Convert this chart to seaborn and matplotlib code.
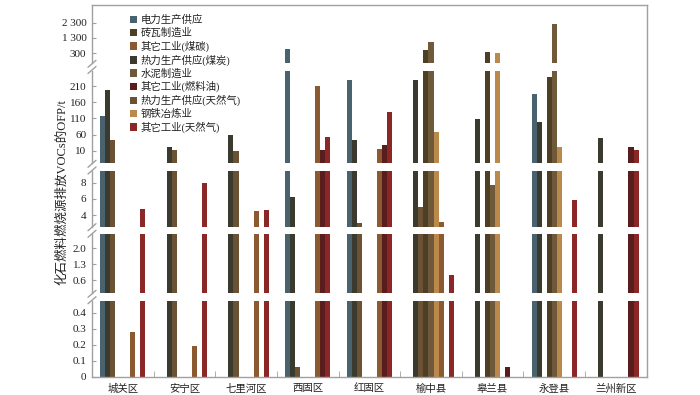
import numpy as np
import pandas as pd
import matplotlib
matplotlib.use('Agg')
import matplotlib.pyplot as plt
from matplotlib.patches import Patch
from matplotlib.lines import Line2D
import seaborn as sns

# ---------------- data ----------------
districts = ['城关区', '安宁区', '七里河区', '西固区', '红固区', '榆中县', '皋兰县', '永登县', '兰州新区']
sectors = ['电力生产供应', '热力生产供应(煤炭)', '热力生产供应(天然气)', '砖瓦制造业', '水泥制造业',
           '钢铁冶炼业', '其它工业(煤碳)', '其它工业(燃料油)', '其它工业(天然气)']
legend_order = ['电力生产供应', '砖瓦制造业', '其它工业(煤碳)', '热力生产供应(煤炭)', '水泥制造业',
                '其它工业(燃料油)', '热力生产供应(天然气)', '钢铁冶炼业', '其它工业(天然气)']

power      = [117, 0, 0, 560, 231, 0, 0, 186, 0]
heat_coal  = [200, 21, 58, 6.2, 42, 228, 108, 100, 50]
heat_gas   = [43, 13, 10, 0.06, 3.0, 5.0, 0, 0, 0]
brick      = [0, 0, 0, 0, 0, 490, 400, 238, 0]
cement     = [0, 0, 0, 0, 0, 1020, 7.7, 2200, 0]
steel      = [0, 0, 0, 0, 0, 67, 300, 20, 0]
other_coal = [0.28, 0.19, 4.5, 210, 14, 3.1, 0, 0, 0]
other_oil  = [0, 0, 0, 13, 29, 0, 0.06, 0, 21.5]
other_gas  = [4.7, 7.9, 4.6, 53, 131, 0.82, 0, 5.8, 11]

series = [power, heat_coal, heat_gas, brick, cement, steel, other_coal, other_oil, other_gas]
values = dict(zip(sectors, series))

colors = ['#4a626e', '#3a3a2e', '#6b5234', '#4e3e24', '#6e5a3b',
          '#bb894c', '#8b5a30', '#5a1d1e', '#8b2727']
palette = dict(zip(sectors, colors))

long = pd.DataFrame([(d, s, values[s][i]) for s in sectors for i, d in enumerate(districts)],
                    columns=['district', 'sector', 'value'])

# broken-axis panels: (top_px, bottom_px, lo, hi, threshold, ticks, labels)
panels = [
    (5.0, 63.3, -354, 3457, 259, [300, 1300, 2300], ['300', '1 300', '2 300']),
    (70.5, 163.3, -29.1, 259, 9.43, [10, 60, 110, 160, 210], ['10', '60', '110', '160', '210']),
    (171.0, 226.7, 2.56, 9.43, 2.62, [4, 6, 8], ['4', '6', '8']),
    (234.3, 293.3, 0.013, 2.62, 0.475, [0.6, 1.3, 2.0], ['0.6', '1.3', '2.0']),
    (300.7, 376.7, 0.0, 0.475, 0.0, [0, 0.1, 0.2, 0.3, 0.4], ['0', '0.1', '0.2', '0.3', '0.4']),
]

# ---------------- style ----------------
sns.set_style('white')
plt.rcParams['font.family'] = ['Liberation Serif', 'Noto Sans CJK SC']
plt.rcParams['axes.unicode_minus'] = False

W, H = 700, 395
fig = plt.figure(figsize=(W / 100, H / 100), dpi=100)
L = 92 / W
AW = (646.7 - 92) / W
spine_c = '#a0a0a0'
text_c = '#222222'

# outer frame (top, right)
frame = fig.add_axes([L, 1 - 376.7 / H, AW, (376.7 - 5) / H], zorder=0)
frame.set_xticks([]); frame.set_yticks([])
frame.set_facecolor('none')
for side in ['left', 'bottom']:
    frame.spines[side].set_visible(False)
for side in ['top', 'right']:
    frame.spines[side].set_color(spine_c)
    frame.spines[side].set_linewidth(1.0)

for k, (top, bot, lo, hi, thr, ticks, labels) in enumerate(panels):
    ax = fig.add_axes([L, 1 - bot / H, AW, (bot - top) / H], zorder=1)
    ax.set_facecolor('none')
    df = long.copy()
    df['h'] = np.where(df['value'] > thr, df['value'] - lo, 0.0)
    sns.barplot(data=df, x='district', y='h', hue='sector', order=districts, hue_order=sectors,
                palette=palette, width=0.735, saturation=1, errorbar=None, legend=False,
                linewidth=0, ax=ax)
    ax.set_ylim(0, hi - lo)
    ax.set_xlim(-0.5, len(districts) - 0.5)
    ax.set_yticks([t - lo for t in ticks])
    ax.set_yticklabels(labels)
    ax.set_ylabel('')
    ax.set_xlabel('')
    ax.tick_params(axis='y', direction='in', length=3, color=spine_c, labelsize=8,
                   labelcolor=text_c, pad=4, left=True)
    for side in ['top', 'right']:
        ax.spines[side].set_visible(False)
    ax.spines['left'].set_color(spine_c)
    ax.spines['left'].set_linewidth(1.0)
    if k == len(panels) - 1:
        ax.spines['bottom'].set_color(spine_c)
        ax.spines['bottom'].set_linewidth(1.0)
        ax.set_xticks(range(len(districts)))
        ax.set_xticklabels(districts)
        ax.set_xticks(np.arange(0.5, len(districts) - 1, 1.0), minor=True)
        ax.tick_params(axis='x', which='major', length=0, labelsize=7.5, labelcolor=text_c, pad=5)
        ax.tick_params(axis='x', which='minor', direction='in', length=4, color=spine_c,
                       bottom=True)
    else:
        ax.spines['bottom'].set_visible(False)
        ax.set_xticks([])

# break marks on the left spine
def slash(ypx):
    x0, x1 = (92 - 4) / W, (92 + 4) / W
    y0, y1 = 1 - (ypx + 3.5) / H, 1 - (ypx - 3.5) / H
    fig.add_artist(Line2D([x0, x1], [y0, y1], transform=fig.transFigure,
                          color=spine_c, lw=1.0))

for k in range(len(panels) - 1):
    slash(panels[k][1] + 0.5)
    slash(panels[k + 1][0] - 0.5)

# legend
handles = [Patch(facecolor=palette[s], edgecolor='none') for s in legend_order]
fig.legend(handles, legend_order, loc='upper left', bbox_to_anchor=(129.5 / W, 1 - 15 / H),
           frameon=False, fontsize=7.5, handlelength=0.7, handleheight=0.7,
           handletextpad=0.35, labelspacing=0.24, borderaxespad=0, borderpad=0,
           labelcolor=text_c)

fig.text(62 / W, 1 - 192 / H, '化石燃料燃烧源排放VOCs的OFP/t', rotation=90,
         ha='center', va='center', fontsize=9, color=text_c)

fig.savefig('out.png', dpi=100)
